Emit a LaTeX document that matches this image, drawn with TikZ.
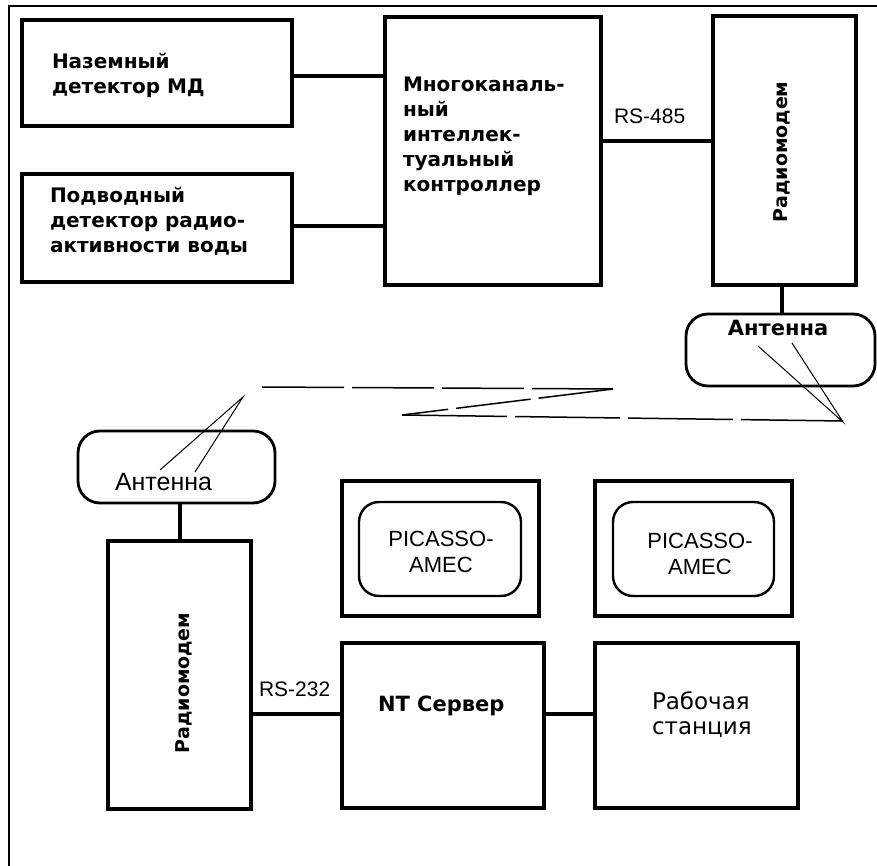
\documentclass[tikz,border=0pt]{standalone}
\usepackage{fontspec}
\newfontfamily\pixfont{DejaVu Sans}
\newfontfamily\arialfont{Liberation Sans}
\begin{document}
\begin{tikzpicture}[x=1pt,y=-1pt,
  box/.style={draw, line width=3.2pt, inner sep=0pt, rectangle},
  ant/.style={draw, line width=2.8pt, inner sep=0pt, rectangle, rounded corners=22pt},
  inbox/.style={draw, line width=2.4pt, inner sep=0pt, rectangle, rounded corners=20pt},
  conn/.style={line width=3.2pt},
  ray/.style={line width=1pt},
  wave/.style={line width=1.5pt},
  lbl/.style={inner sep=0pt, outer sep=0pt},
  pixb/.style={font=\pixfont\bfseries\fontsize{20pt}{25pt}\selectfont},
  pixr/.style={font=\pixfont\fontsize{23pt}{25pt}\selectfont},
  ari/.style={font=\arialfont\fontsize{22pt}{26pt}\selectfont},
]
\useasboundingbox (0,0) rectangle (877,866);
% frame
\coordinate (f1) at (9,866);
\coordinate (f2) at (9,6);
\coordinate (f3) at (877,6);
\draw[line width=2.6pt] (f1) -- (f2) -- (f3);

% boxes
\node[box, minimum width=270pt, minimum height=106pt] (det1) at (157,73) {};
\node[box, minimum width=270pt, minimum height=108pt] (det2) at (157,228) {};
\node[box, minimum width=216pt, minimum height=268pt] (ctrl) at (493,151) {};
\node[box, minimum width=143pt, minimum height=269pt] (rm1) at (784.5,150.5) {};
\node[ant, minimum width=189pt, minimum height=72pt] (ant1) at (780.5,350) {};
\node[ant, minimum width=197pt, minimum height=72pt] (ant2) at (176.5,467) {};
\node[box, minimum width=143pt, minimum height=268pt] (rm2) at (179.5,675) {};
\node[box, minimum width=197pt, minimum height=135pt] (pic1) at (440.5,548.5) {};
\node[inbox, minimum width=162pt, minimum height=94pt] (pic1i) at (440,549) {};
\node[box, minimum width=197pt, minimum height=135pt] (pic2) at (693.5,548.5) {};
\node[inbox, minimum width=161pt, minimum height=94pt] (pic2i) at (693.5,549) {};
\node[box, minimum width=202pt, minimum height=165pt] (nt) at (443,725.5) {};
\node[box, minimum width=203pt, minimum height=165pt] (rab) at (696.5,725.5) {};

% connectors
\draw[conn] (det1.east |- 0,76) -- (ctrl.west |- 0,76);
\draw[conn] (det2.east |- 0,226) -- (ctrl.west |- 0,226);
\draw[conn] (ctrl.east |- 0,141) -- (rm1.west |- 0,141);
\draw[conn] (rm1.south -| 782,0) -- (ant1.north -| 782,0);
\draw[conn] (ant2.south -| 180,0) -- (rm2.north -| 180,0);
\draw[conn] (rm2.east |- 0,714) -- (nt.west |- 0,714);
\draw[conn] (nt.east |- 0,714) -- (rab.west |- 0,714);

% radio link
\coordinate (w1) at (262,387);
\coordinate (w2) at (613,389);
\coordinate (w3) at (402,415);
\coordinate (w4) at (843,421);
\draw[wave, dash pattern=on 82pt off 8pt] (w1) -- (w2);
\draw[wave, dash pattern=on 75pt off 8pt] (w2) -- (w3);
\draw[wave, dash pattern=on 105pt off 8pt] (w3) -- (w4);
\coordinate (a1) at (843,422);
\coordinate (r1) at (758,346);
\coordinate (r2) at (792,343);
\draw[ray] (r1) -- (a1) -- (r2);
\coordinate (a2) at (243,397);
\coordinate (r3) at (160,470);
\coordinate (r4) at (195,472);
\draw[ray] (r3) -- (a2) -- (r4);

% texts
\node[lbl, pixb, anchor=north west, align=left] (t1) at (52,53) {\rule{0pt}{16pt}Наземный\\детектор МД};
\node[lbl, pixb, anchor=north west, align=left] (t2) at (50,187) {\rule{0pt}{16pt}Подводный\\детектор радио-\\активности воды};
\node[lbl, pixb, anchor=north west, align=left] (t3) at (403,76) {\rule{0pt}{16pt}Многоканаль-\\ный\\интеллек-\\туальный\\контроллер};
\node[lbl, font=\arialfont\fontsize{21pt}{25pt}\selectfont, anchor=base west] (t4) at (614,124) {RS-485};
\node[lbl, font=\pixfont\bfseries\fontsize{19pt}{25pt}\selectfont, anchor=base, rotate=90] (t5) at (787,152) {Радиомодем};
\node[lbl, font=\pixfont\bfseries\fontsize{21pt}{25pt}\selectfont, anchor=base] (t6) at (778,335) {Антенна};
\node[lbl, font=\arialfont\fontsize{25pt}{26pt}\selectfont, anchor=base west] (t7) at (115,490) {Антенна};
\node[lbl, font=\pixfont\bfseries\fontsize{19pt}{25pt}\selectfont, anchor=base, rotate=90] (t8) at (189,683) {Радиомодем};
\node[lbl, ari, anchor=north, align=center] (t9) at (441,529) {\rule{0pt}{17pt}PICASSO-\\AMEC};
\node[lbl, ari, anchor=north, align=center] (t10) at (700,531) {\rule{0pt}{17pt}PICASSO-\\AMEC};
\node[lbl, font=\arialfont\fontsize{21pt}{25pt}\selectfont, anchor=base west] (t11) at (259,696) {RS-232};
\node[lbl, font=\pixfont\bfseries\fontsize{21pt}{25pt}\selectfont, anchor=base west] (t12) at (378,711) {NT Сервер};
\node[lbl, pixr, anchor=north west, align=left] (t13) at (652,692) {\rule{0pt}{17pt}Рабочая\\станция};
\end{tikzpicture}
\end{document}
